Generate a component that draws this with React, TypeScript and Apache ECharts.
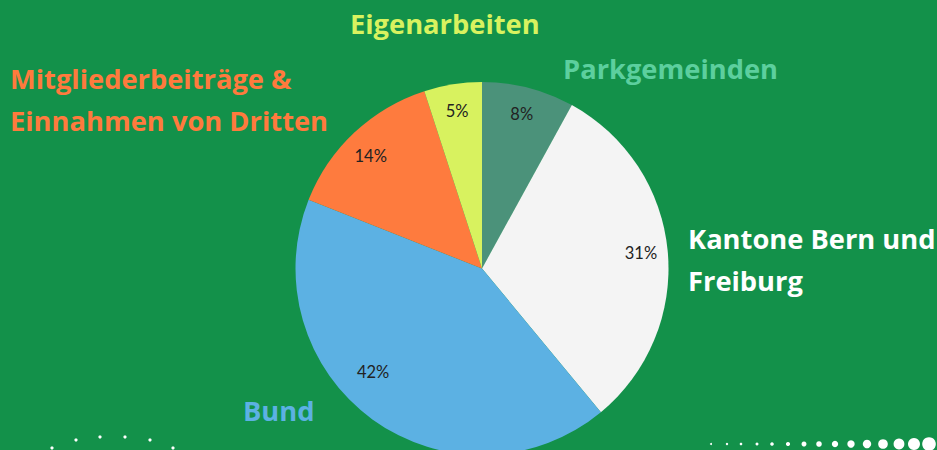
import React, { useEffect, useRef } from "react";
import * as echarts from "echarts";

const categories = [
  "Parkgemeinden",
  "Kantone Bern und\nFreiburg",
  "Bund",
  "Mitgliederbeiträge &\nEinnahmen von Dritten",
  "Eigenarbeiten",
];
const shares = [8, 31, 42, 14, 5];
const sliceColors = ["#4b927a", "#f4f4f4", "#5cb1e3", "#fe7b3e", "#d8f25f"];
const nameColors = ["#5ccf9e", "#ffffff", "#5cb1e3", "#ff7a3d", "#d8f25f"];

// Decorative dot positions (background ornament)
const leftDots = [
  [52, 448], [76, 440], [100, 437], [125, 437], [150, 440], [173, 448],
];
const rightDotX = [711, 727, 741, 757, 772, 788, 804, 819, 835, 851, 867, 883, 899, 914, 929];
const rightDotR = [1, 1.2, 1.3, 1.5, 1.8, 2.1, 2.5, 2.8, 3.2, 3.7, 4.2, 4.8, 5.4, 6, 6.8];

const namePos: Record<number, [number, number]> = {
  0: [563, 68],
  1: [688, 259],
  2: [243, 410],
  3: [10, 99],
  4: [350, 23],
};

export default function App() {
  const ref = useRef<HTMLDivElement>(null);
  useEffect(() => {
    if (!ref.current) return;
    const chart = echarts.init(ref.current, null, { renderer: "svg" });
    const data = categories.map((name, i) => ({
      name,
      value: shares[i],
      itemStyle: { color: sliceColors[i] },
    }));
    const center = [482, 268.5];
    const R = 186.5;
    const graphics: any[] = [];
    leftDots.forEach(([x, y]) =>
      graphics.push({ type: "circle", shape: { cx: x, cy: y, r: 1.6 }, style: { fill: "#ffffff" }, silent: true })
    );
    rightDotX.forEach((x, i) =>
      graphics.push({ type: "circle", shape: { cx: x, cy: 444, r: rightDotR[i] }, style: { fill: "#ffffff" }, silent: true })
    );
    chart.setOption({
      animation: false,
      backgroundColor: "#13914a",
      graphic: graphics,
      series: [
        {
          type: "pie",
          center,
          radius: [0, R],
          startAngle: 90,
          clockwise: true,
          data,
          label: { show: false },
          labelLine: { show: false },
          itemStyle: { borderWidth: 0 },
          emphasis: { disabled: true },
        },
        {
          type: "pie",
          center,
          radius: [R * 0.68, R],
          startAngle: 90,
          clockwise: true,
          silent: true,
          data: data.map((d) => ({ ...d, itemStyle: { color: "transparent" } })),
          label: {
            show: true,
            position: "inside",
            formatter: "{c}%",
            fontFamily: "Lato",
            fontSize: 16.5,
            color: "#222222",
          },
          labelLayout: (p: any) =>
            p.dataIndex === 2 ? { dx: -15, dy: -26 } : p.dataIndex === 3 ? { dx: -2, dy: 4 } : {},
          labelLine: { show: false },
          emphasis: { disabled: true },
        },
        {
          type: "pie",
          center,
          radius: [0, R],
          startAngle: 90,
          clockwise: true,
          silent: true,
          data: data.map((d, i) => ({
            ...d,
            itemStyle: { color: "transparent" },
            label: { color: nameColors[i] },
          })),
          label: {
            show: true,
            position: "outside",
            formatter: "{b}",
            fontFamily: "Open Sans",
            fontWeight: "bold",
            fontSize: 27.3,
            lineHeight: 42,
            overflow: "none",
            width: 400,
            edgeDistance: 0,
          },
          labelLine: { show: false },
          labelLayout: (p: any) => {
            const pos = namePos[p.dataIndex];
            return { x: pos[0], y: pos[1], align: "left", verticalAlign: "middle", hideOverlap: false };
          },
          emphasis: { disabled: true },
        },
      ],
    });
    return () => chart.dispose();
  }, []);
  return <div ref={ref} style={{ position: "absolute", left: 0, top: 0, width: 937, height: 450 }} />;
}
